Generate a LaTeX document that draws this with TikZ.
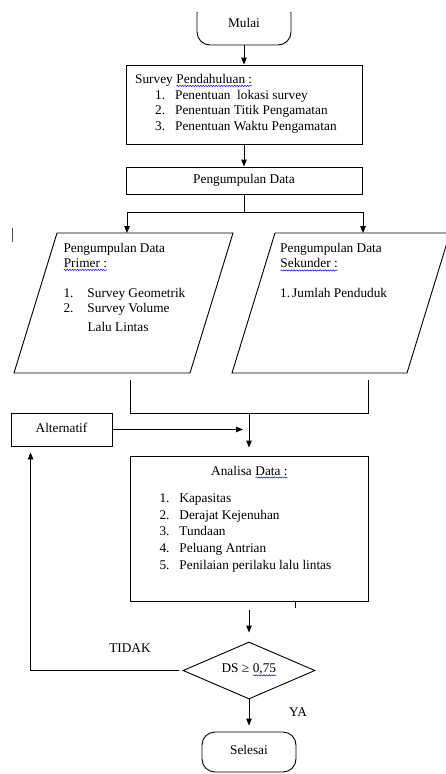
\documentclass[tikz,border=0pt]{standalone}
\usepackage{fontspec}
\setmainfont{Liberation Serif}
\usepackage{xcolor}
\usetikzlibrary{positioning}
\usetikzlibrary{shapes.geometric}
\usetikzlibrary{arrows.meta}
\usetikzlibrary{decorations.pathmorphing}
\newcommand\spellwave[1]{\tikz[baseline=(w.base)]{\node[shape=rectangle, draw=none, fill=none, minimum size=0pt, inner sep=0pt, outer sep=0pt] (w) {#1};
  \draw[blue, line width=0.5pt, decorate, decoration={snake, amplitude=0.6pt, segment length=2.6pt}]
  ([yshift=-2.5pt]w.base west) -- ([yshift=-2.5pt]w.base east);}}

\begin{document}
\begin{tikzpicture}[x=1pt, y=-1pt,
  txt/.style={font=\fontsize{13.3}{15.7}\selectfont},
  box/.style={draw, line width=0.9pt, rectangle, inner sep=0pt, txt},
  term/.style={box, rounded corners=13pt, minimum width=94pt},
  list/.style={align=left, inner sep=0pt, anchor=north west},
  flow/.style={line width=0.9pt, -{Triangle[length=7pt,width=5.5pt]}},
  wire/.style={line width=0.9pt}]

\useasboundingbox (0,0) rectangle (445,774);

\begin{scope}
\clip (0,12) rectangle (445,60);
\node[term, minimum height=45pt] (mulai) at (244,22.5) {Mulai};
\end{scope}

\node[box, minimum width=236pt, minimum height=79pt] (survey) at (244,104.5) {};
\node[list, font=\fontsize{13.3}{15.7}\selectfont] (surveytext) at (135,74)
{Survey \spellwave{Pendahuluan :}\\
\hspace*{20pt}\makebox[20pt][l]{1.}Penentuan\ \ lokasi survey\\
\hspace*{20pt}\makebox[20pt][l]{2.}Penentuan Titik Pengamatan\\
\hspace*{20pt}\makebox[20pt][l]{3.}Penentuan Waktu Pengamatan};

\node[box, minimum width=236pt, minimum height=27pt] (kumpul) at (244,180.5) {Pengumpulan Data};

\coordinate (split) at (244,212);
\coordinate (primer-in) at (127,233);
\coordinate (sekunder-in) at (363,233);

% data primer dan sekunder
\draw[wire] (57,233) -- (233,233) -- (190,373) -- (14,373) -- cycle;
\draw[wire] (275,233) -- (450,233) -- (407,373) -- (232,373) -- cycle;

\node[list, font=\fontsize{13.3}{15}\selectfont] (primertext) at (63.3,243)
{Pengumpulan Data\\
\spellwave{Primer :}\\[15pt]
\makebox[24pt][l]{1.}Survey Geometrik\\
\makebox[24pt][l]{2.}Survey Volume\\[4pt]
\hspace*{24pt}Lalu Lintas};

\node[list, font=\fontsize{13.3}{15.5}\selectfont] (sekundertext) at (280,243)
{Pengumpulan Data\\
\spellwave{Sekunder :}\\[14.5pt]
\makebox[12pt][l]{1.}Jumlah Penduduk};

\coordinate (primer-out) at (130,373);
\coordinate (sekunder-out) at (368,373);
\coordinate (join) at (249,413);

\node[box, minimum width=101pt, minimum height=33pt] (alt) at (61.5,429.5) {\raisebox{3pt}{Alternatif}};

\node[box, minimum width=238pt, minimum height=145pt] (analisa) at (249,528.5) {};
\node[txt, anchor=base, inner sep=0pt] (analisahead) at (249.5,475) {Analisa \spellwave{Data :}};
\node[list, font=\fontsize{13.3}{16.6}\selectfont] (analisalist) at (159.3,493.7)
{\makebox[20pt][l]{1.}Kapasitas\\
\makebox[20pt][l]{2.}Derajat Kejenuhan\\
\makebox[20pt][l]{3.}Tundaan\\
\makebox[20pt][l]{4.}Peluang Antrian\\
\makebox[20pt][l]{5.}Penilaian perilaku lalu lintas};

\node[diamond, draw, line width=0.9pt, minimum width=132pt, minimum height=57pt, aspect=2.3, inner sep=0pt, txt] (ds) at (249,670.5) {\raisebox{4pt}{DS ≥ \spellwave{0,75}}};

\node[term, minimum height=40pt] (selesai) at (249,752) {\raisebox{4pt}{Selesai}};

\node[txt] (tidak) at (130,648) {TIDAK};
\node[txt] (ya) at (298,712) {YA};

\draw[flow] (mulai.south) -- (survey.north);
\draw[flow] (survey.south) -- (kumpul.north);
\draw[wire] (kumpul.south) -- (split);
\draw[flow] (split) -| (primer-in);
\draw[flow] (split) -| (sekunder-in);
\draw[wire, shorten <=7pt] (primer-out) |- (join);
\draw[wire, shorten <=7pt] (sekunder-out) |- (join);
\draw[flow, shorten >=8pt] (join) -- (join |- analisa.north);
\draw[flow, shorten >=6pt] (alt.east) -- (alt.east -| join);
\draw[flow, shorten <=9pt, shorten >=9pt] (analisa.south) -- (ds.north);
\draw[flow, shorten >=6pt] (ds.south) -- (selesai.north);
\draw[flow, shorten <=4pt, shorten >=6pt] (ds.west) -| ([xshift=20pt]alt.south west);

\draw[gray!60!black, line width=1pt] (12,228) -- (12,242);
\draw[line width=0.8pt] (295,602) -- (295,608);

\end{tikzpicture}
\end{document}
